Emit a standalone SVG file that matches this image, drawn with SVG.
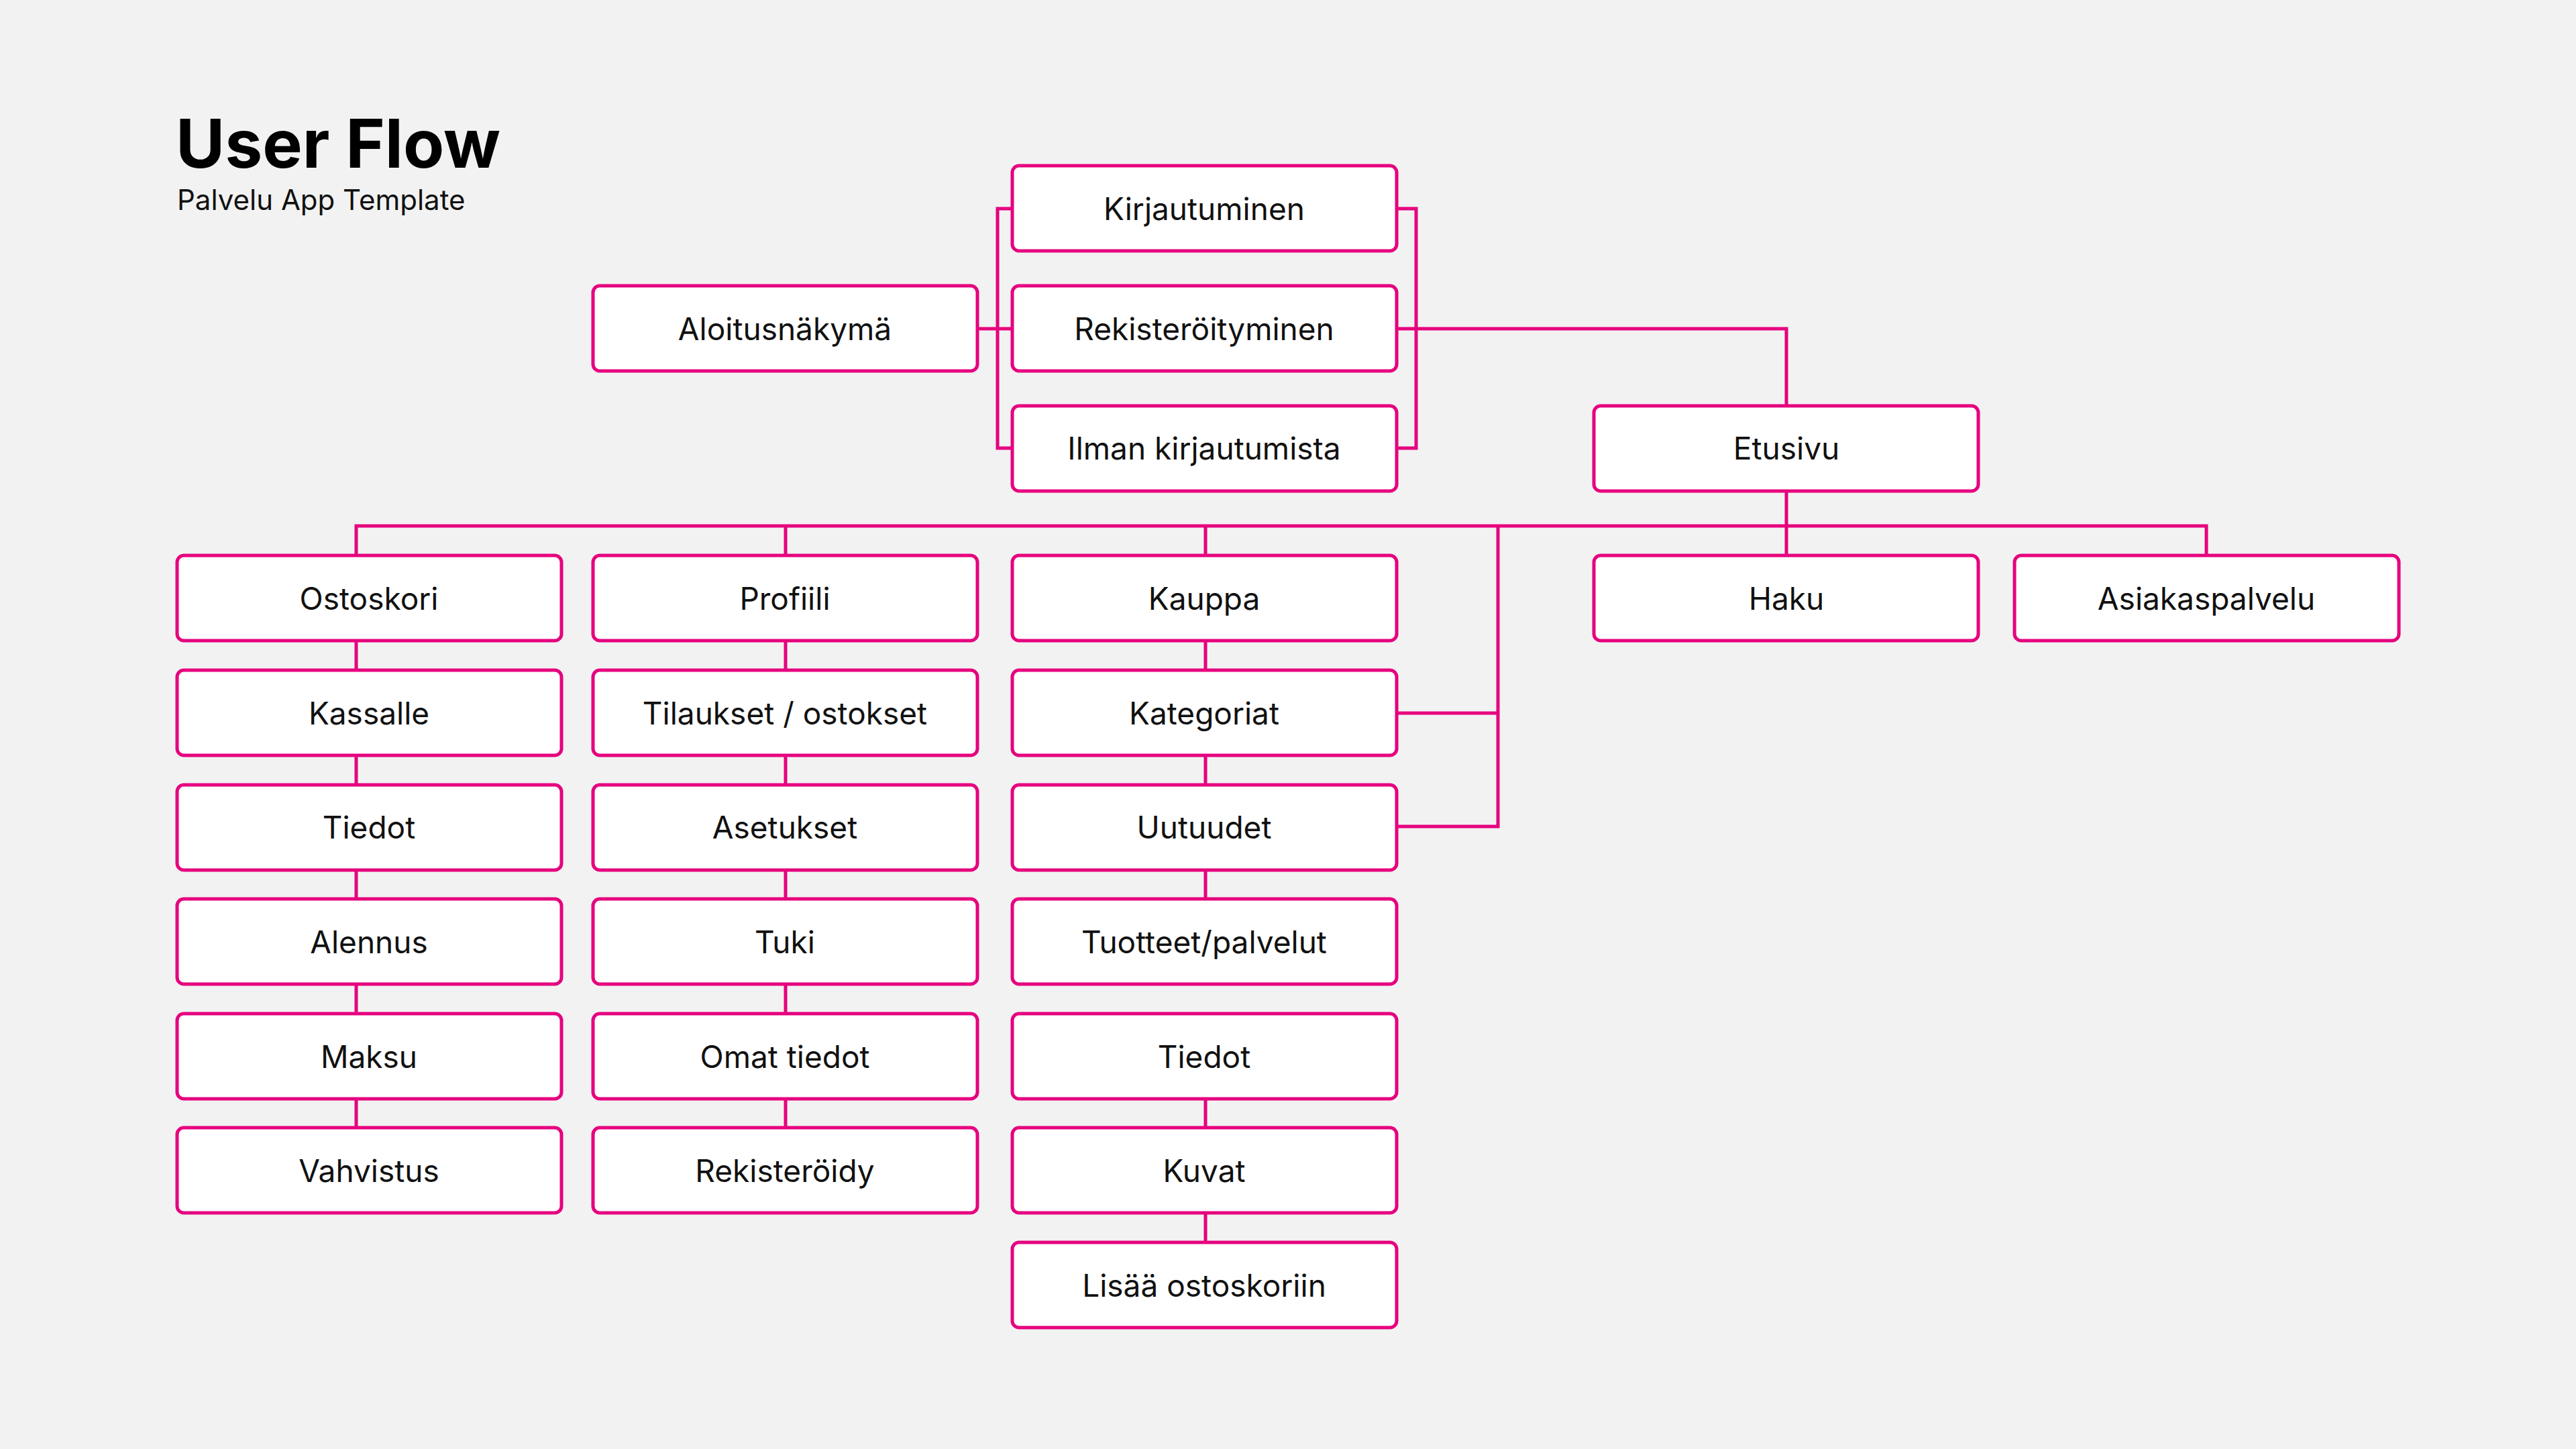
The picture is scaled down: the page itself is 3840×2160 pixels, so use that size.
<svg xmlns="http://www.w3.org/2000/svg" width="3840" height="2160" viewBox="0 0 3840 2160">
<style>
.n rect{fill:#fff;stroke:#e6007e;stroke-width:5}
.n text{font-family:Inter,"Noto Sans",sans-serif;font-size:46px;fill:#111;text-anchor:middle;dominant-baseline:central}
#c path{fill:none;stroke:#e6007e;stroke-width:5}
</style>
<rect width="3840" height="2160" fill="#f2f2f2"/>
<text x="262" y="250" font-family="Inter,'Noto Sans',sans-serif" font-weight="700" font-size="100" fill="#000">User Flow</text>
<text x="264" y="313" font-family="Inter,'Noto Sans',sans-serif" font-size="42" fill="#111">Palvelu App Template</text>
<g id="c">
<path d="M1457 490H1509M1509 311H1487V668H1509M2082 311H2111V668H2082M2082 490H2663V605M2663 732V828M531 828V784H3289V828M1171 784V828M1797 784V828M2233 784V1232H2082M2082 1063H2233"/>
<path d="M531 955V999M531 1126V1170M531 1297V1340M531 1467V1511M531 1638V1681"/>
<path d="M1171 955V999M1171 1126V1170M1171 1297V1340M1171 1467V1511M1171 1638V1681"/>
<path d="M1797 955V999M1797 1126V1170M1797 1297V1340M1797 1638V1681M1797 1808V1852"/>
</g>
<g id="kirjautuminen" class="n"><rect x="1509" y="247" width="573" height="127" rx="10"/><text x="1795" y="311">Kirjautuminen</text></g>
<g id="rekisteroityminen" class="n"><rect x="1509" y="426" width="573" height="127" rx="10"/><text x="1795" y="490">Rekisteröityminen</text></g>
<g id="ilman" class="n"><rect x="1509" y="605" width="573" height="127" rx="10"/><text x="1795" y="668">Ilman kirjautumista</text></g>
<g id="aloitus" class="n"><rect x="884" y="426" width="573" height="127" rx="10"/><text x="1170" y="490">Aloitusnäkymä</text></g>
<g id="etusivu" class="n"><rect x="2376" y="605" width="573" height="127" rx="10"/><text x="2663" y="668">Etusivu</text></g>
<g id="haku" class="n"><rect x="2376" y="828" width="573" height="127" rx="10"/><text x="2663" y="892">Haku</text></g>
<g id="asiakaspalvelu" class="n"><rect x="3003" y="828" width="573" height="127" rx="10"/><text x="3289" y="892">Asiakaspalvelu</text></g>
<g id="ostoskori" class="n"><rect x="264" y="828" width="573" height="127" rx="10"/><text x="550" y="892">Ostoskori</text></g>
<g id="kassalle" class="n"><rect x="264" y="999" width="573" height="127" rx="10"/><text x="550" y="1063">Kassalle</text></g>
<g id="tiedot1" class="n"><rect x="264" y="1170" width="573" height="127" rx="10"/><text x="550" y="1233">Tiedot</text></g>
<g id="alennus" class="n"><rect x="264" y="1340" width="573" height="127" rx="10"/><text x="550" y="1404">Alennus</text></g>
<g id="maksu" class="n"><rect x="264" y="1511" width="573" height="127" rx="10"/><text x="550" y="1575">Maksu</text></g>
<g id="vahvistus" class="n"><rect x="264" y="1681" width="573" height="127" rx="10"/><text x="550" y="1745">Vahvistus</text></g>
<g id="profiili" class="n"><rect x="884" y="828" width="573" height="127" rx="10"/><text x="1170" y="892">Profiili</text></g>
<g id="tilaukset" class="n"><rect x="884" y="999" width="573" height="127" rx="10"/><text x="1170" y="1063">Tilaukset / ostokset</text></g>
<g id="asetukset" class="n"><rect x="884" y="1170" width="573" height="127" rx="10"/><text x="1170" y="1233">Asetukset</text></g>
<g id="tuki" class="n"><rect x="884" y="1340" width="573" height="127" rx="10"/><text x="1170" y="1404">Tuki</text></g>
<g id="omat" class="n"><rect x="884" y="1511" width="573" height="127" rx="10"/><text x="1170" y="1575">Omat tiedot</text></g>
<g id="rekisteroidy" class="n"><rect x="884" y="1681" width="573" height="127" rx="10"/><text x="1170" y="1745">Rekisteröidy</text></g>
<g id="kauppa" class="n"><rect x="1509" y="828" width="573" height="127" rx="10"/><text x="1795" y="892">Kauppa</text></g>
<g id="kategoriat" class="n"><rect x="1509" y="999" width="573" height="127" rx="10"/><text x="1795" y="1063">Kategoriat</text></g>
<g id="uutuudet" class="n"><rect x="1509" y="1170" width="573" height="127" rx="10"/><text x="1795" y="1233">Uutuudet</text></g>
<g id="tuotteet" class="n"><rect x="1509" y="1340" width="573" height="127" rx="10"/><text x="1795" y="1404">Tuotteet/palvelut</text></g>
<g id="tiedot2" class="n"><rect x="1509" y="1511" width="573" height="127" rx="10"/><text x="1795" y="1575">Tiedot</text></g>
<g id="kuvat" class="n"><rect x="1509" y="1681" width="573" height="127" rx="10"/><text x="1795" y="1745">Kuvat</text></g>
<g id="lisaa" class="n"><rect x="1509" y="1852" width="573" height="127" rx="10"/><text x="1795" y="1916">Lisää ostoskoriin</text></g>
</svg>
